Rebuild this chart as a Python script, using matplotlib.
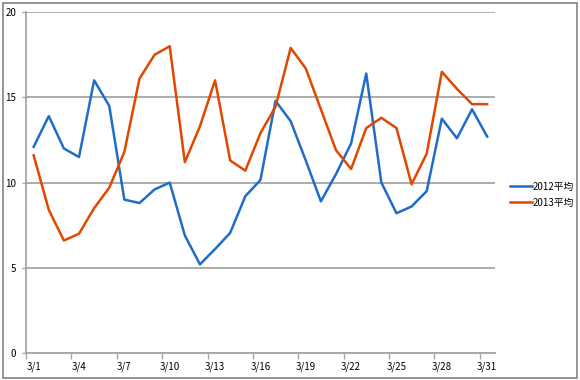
import matplotlib
matplotlib.use('Agg')
import matplotlib.pyplot as plt
from matplotlib.patches import Rectangle
import numpy as np

plt.rcParams['font.family'] = ['Noto Sans CJK JP', 'DejaVu Sans']

# daily values for March, day 1..31
days = list(range(1, 32))
avg_2012 = [12.1, 13.9, 12.0, 11.5, 16.0, 14.5, 9.0, 8.8, 9.6, 10.0,
            6.9, 5.2, 6.1, 7.05, 9.2, 10.15, 14.8, 13.6, 11.3, 8.9,
            10.5, 12.3, 16.4, 10.0, 8.2, 8.6, 9.5, 13.75, 12.6, 14.3, 12.7]
avg_2013 = [11.6, 8.4, 6.6, 7.0, 8.5, 9.7, 11.8, 16.1, 17.5, 18.0,
            11.2, 13.3, 16.0, 11.3, 10.7, 12.9, 14.45, 17.9, 16.7, 14.3,
            11.9, 10.8, 13.2, 13.8, 13.2, 9.9, 11.7, 16.5, 15.5, 14.6, 14.6]
label_days = [1, 4, 7, 10, 13, 16, 19, 22, 25, 28, 31]
label_text = ['3/%d' % d for d in label_days]
series_names = ['2012平均', '2013平均']

blue = '#1f6cc9'
orange = '#e04800'
grey = '#a6a6a6'

fig = plt.figure(figsize=(5.8, 3.8), dpi=100)
fig.patch.set_facecolor('white')
ax = fig.add_axes([0.045, 0.071, 0.808, 0.897])

ax.plot(days, avg_2012, color=blue, lw=1.8, label=series_names[0])
ax.plot(days, avg_2013, color=orange, lw=1.8, label=series_names[1])

ax.set_xlim(0.5, 31.5)
ax.set_ylim(0, 20)

# y axis
ax.set_yticks([0, 5, 10, 15, 20])
ax.yaxis.grid(True, color=grey, lw=1.3)
ax.set_axisbelow(True)
ax.tick_params(axis='y', length=3, width=1, color=grey, labelsize=7, pad=4)

# x axis: tick marks between days, labels on the day
ax.set_xticks([d - 0.5 for d in label_days])
ax.set_xticklabels([])
ax.set_xticks(label_days, minor=True)
ax.set_xticklabels(label_text, minor=True)
ax.tick_params(axis='x', which='major', length=4, width=1, color=grey)
ax.tick_params(axis='x', which='minor', length=0, labelsize=7, pad=6)

for s in ['top', 'right']:
    ax.spines[s].set_visible(False)
for s in ['left', 'bottom']:
    ax.spines[s].set_color(grey)
    ax.spines[s].set_linewidth(1.3)

leg = fig.legend(loc='upper left', bbox_to_anchor=(0.865, 0.545), frameon=False,
                 fontsize=7, handlelength=2.2, handletextpad=0.1, labelspacing=0.6)

fig.patches.append(Rectangle((0.006, 0.006), 0.988, 0.986, transform=fig.transFigure,
                             fill=False, edgecolor='#8c8c8c', lw=1.3))

fig.savefig('out.png', dpi=100)
